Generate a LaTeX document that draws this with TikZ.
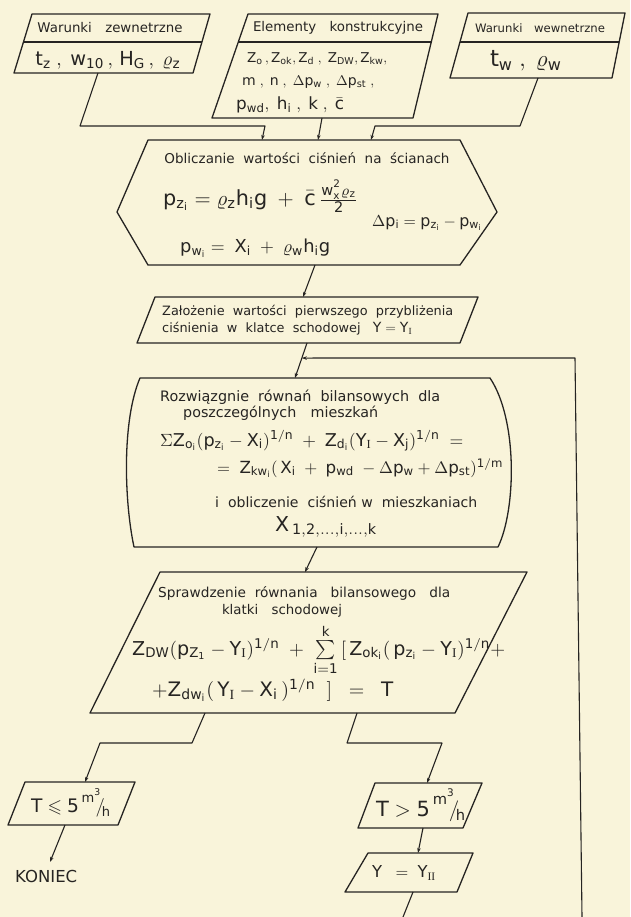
\documentclass[tikz,border=0pt]{standalone}
\usepackage{fix-cm}
\usepackage{amsmath,amssymb}
\usepackage{graphicx}
\usepackage{fontspec}
\setmainfont{DejaVu Sans}
\setsansfont{DejaVu Sans}
\newfontfamily\serifr{Liberation Serif}
\usetikzlibrary{arrows.meta,calc}
\definecolor{paper}{RGB}{249,244,218}
\definecolor{ink}{RGB}{38,36,34}
\newcommand{\RI}{\text{\serifr I}}
\newcommand{\RII}{\text{\serifr II}}
\newcommand{\fw}[2]{\resizebox{#1pt}{!}{#2}}
\newcommand{\msf}[1]{\mathsf{#1}}
\begin{document}
\begin{tikzpicture}[x=1pt,y=-1pt,
  shp/.style={draw=ink,line width=1.3pt,line join=round},
  conn/.style={draw=ink,line width=1.1pt,line join=round},
  arr/.style={conn,-{Stealth[length=5pt,width=3.5pt]}},
  lab/.style={text=ink,inner sep=0pt,font=\fontsize{11}{13}\selectfont},
  lw/.style={lab,anchor=west}]
\useasboundingbox (0,0) rectangle (630,917);
\fill[paper] (0,0) rectangle (630,917);

% ---- top input boxes
\draw[shp] (32,14) -- (210,14) -- (193,73) -- (14,73) -- cycle;
\draw[shp] (23.5,42) -- (201.5,42);
\node[lab] (tA) at (110,28) {\fw{145}{Warunki\quad zewnetrzne}};
\node[lab] (vA) at (108,60) {\fw{145}{$\msf{t_z}\;,\;\msf{w_{10}}\,,\,\msf{H_G}\,,\;\varrho_{\msf{z}}$}};

\draw[shp] (248,14) -- (438,14) -- (413,118) -- (212,118) -- cycle;
\draw[shp] (238.3,42) -- (431.3,42);
\node[lab] (tB) at (338,28) {\fw{170}{Elementy\quad konstrukcyjne}};
\node[lw] (vB1) at (247,59) {\fw{140}{$\msf{Z_o}\,,\msf{Z_{ok}},\msf{Z_d}\;,\;\msf{Z_{DW}},\msf{Z_{kw}},$}};
\node[lw] (vB2) at (242,82) {\fw{132}{$\msf{m}\;,\;\msf{n}\;,\;\Delta\msf{p_w}\;,\;\Delta\msf{p_{st}}\;,$}};
\node[lw] (vB3) at (236,105) {\fw{108}{$\msf{p_{wd}},\;\msf{h_i}\;,\;\msf{k}\;,\;\bar{\msf{c}}$}};

\draw[shp] (468,13) -- (625,13) -- (612,78) -- (450,78) -- cycle;
\draw[shp] (460,42) -- (619,42);
\node[lab] (tC) at (540,28) {\fw{130}{Warunki\quad wewnetrzne}};
\node[lab] (vC) at (526,61) {\fw{72}{$\msf{t_w}\;,\;\varrho_{\msf{w}}$}};

% ---- hexagon
\draw[shp] (148,140) -- (460,140) -- (497,212) -- (460,265) -- (148,265) -- (117,212) -- cycle;
\node[lab] (hT) at (307,158) {\fw{285}{Obliczanie\ \ wartości\ \ ciśnień\ \ na\ \ ścianach}};
\node[lw] (hF1) at (163,196) {\fw{195}{$\msf{p_{z_i}}=\varrho_{\msf{z}}\msf{h_i g}\;+\;\bar{\msf{c}}\,\frac{\msf{w_x^2}\varrho_{\msf{z}}}{\msf{2}}$}};
\node[lw] (hF2) at (372,223) {\fw{110}{$\Delta\msf{p_i}=\msf{p_{z_i}}-\msf{p_{w_i}}$}};
\node[lw] (hF3) at (180,248) {\fw{150}{$\msf{p_{w_i}}=\;\msf{X_i}\;+\;\varrho_{\msf{w}}\msf{h_i g}$}};

% ---- assumption box
\draw[shp] (155,297) -- (478,297) -- (460,343) -- (137,343) -- cycle;
\node[lw] (aL1) at (162,312) {\fw{291}{Założenie\ \ wartości\ \ pierwszego\ \ przybliżenia}};
\node[lw] (aL2) at (162,329) {\fw{250}{ciśnienia\ \ w\ \ klatce\ \ schodowej\ \ \ {\large$\msf{Y} = \msf{Y}_{\RI}$}}};

% ---- balance box (curved sides)
\draw[shp] (140,378) -- (490,378) .. controls (518,420) and (516,510) .. (498,547)
  -- (134,547) .. controls (124,500) and (122,420) .. cycle;
\node[lw] (bT1) at (160,397) {\fw{280}{Rozwiązgnie\ \ równań\ \ bilansowych\ \ dla}};
\node[lw] (bT2) at (183,413) {\fw{195}{poszczególnych\quad mieszkań}};
\node[lw] (bF1) at (160,441) {\fw{303}{$\Sigma\msf{Z_{o_i}}(\msf{p_{z_i}}-\msf{X_i})^{\msf{1/n}}\;+\;\msf{Z_{d_i}}(\msf{Y}_{\RI}-\msf{X_j})^{\msf{1/n}}\;=$}};
\node[lw] (bF2) at (217,468) {\fw{286}{$=\;\msf{Z_{kw_i}}(\,\msf{X_i}\;+\;\msf{p_{wd}}\;-\Delta\msf{p_w}+\Delta\msf{p_{st}})^{\msf{1/m}}$}};
\node[lw] (bT3) at (215,502) {\fw{262}{i\ \ obliczenie\ \ ciśnień\ w\ \ mieszkaniach}};
\node[lw] (bX) at (275,527) {\fw{102}{$\msf{X}_{\,\msf{1,2,\ldots,i,\ldots,k}}$}};

% ---- check box
\draw[shp] (160,572) -- (527,572) -- (455,713) -- (90,713) -- cycle;
\node[lw] (cT1) at (158,593) {\fw{292}{Sprawdzenie\ \ równania\ \ \ bilansowego\ \ \ dla}};
\node[lab] (cT2) at (282,611) {\fw{120}{klatki\quad schodowej}};
\node[lw] (cF1) at (132,650) {\fw{373}{$\msf{Z_{DW}}(\msf{p_{Z_1}}-\msf{Y}_{\RI})^{\msf{1/n}}\;+\;\textstyle\sum\limits_{\msf{i=1}}^{\msf{k}}\,[\,\msf{Z_{ok_i}}(\,\msf{p_{z_i}}-\msf{Y}_{\RI})^{\msf{1/n}}+$}};
\node[lw] (cF2) at (152,690) {\fw{241}{$+\msf{Z_{dw_i}}(\,\msf{Y}_{\RI}-\msf{X_i}\,)^{\msf{1/n}}\;\;]\;\;=\;\;\msf{T}$}};

% ---- bottom boxes
\draw[shp] (25,782) -- (135,782) -- (118,825) -- (8,825) -- cycle;
\node[lab] (tLe) at (71,803) {\fw{80}{$\msf{T}\leqslant\msf{5}^{\,\msf{m^3}}\!\!/\!_{\msf{h}}$}};
\node[lw] (kon) at (15,876) {\fw{62}{KONIEC}};

\draw[shp] (375,783) -- (482,783) -- (463,828) -- (358,828) -- cycle;
\node[lab] (tGt) at (421,805) {\fw{90}{$\msf{T}>\msf{5}^{\,\msf{m^3}}\!\!/\!_{\msf{h}}$}};

\draw[shp] (368,853) -- (473,853) -- (457,892) -- (345,892) -- cycle;
\node[lab] (yII) at (404,873) {\fw{64}{$\msf{Y}\;\;=\;\msf{Y}_{\RII}$}};

% ---- connector coordinates
\coordinate (Ab) at (98,73);   \coordinate (Ak) at (80,126);
\coordinate (Am) at (265,126); \coordinate (H1) at (262,140);
\coordinate (Bb) at (322,118); \coordinate (H2) at (318,140);
\coordinate (Cb) at (538,78);  \coordinate (Ck) at (520,126);
\coordinate (Cm) at (375,126); \coordinate (H3) at (371,140);
\coordinate (Hb) at (315,265); \coordinate (Pt) at (303,297);
\coordinate (Pb) at (307,343); \coordinate (Rt) at (295,378);
\coordinate (Rj) at ($(Pb)!0.43!(Rt)$);
\coordinate (Rb) at (317,547); \coordinate (St) at (305,572);
\coordinate (Sb1) at (205,713); \coordinate (L1) at (192,743);
\coordinate (L2) at (100,743);  \coordinate (Tt) at (85,782);
\coordinate (Tb) at (65,825);   \coordinate (Kt) at (50,862);
\coordinate (Sb2) at (357,713); \coordinate (M1) at (347,743);
\coordinate (M2) at (442,743);  \coordinate (Ut) at (427,783);
\coordinate (Ub) at (423,828);  \coordinate (Yt) at (418,853);
\coordinate (Yb) at (413,892);  \coordinate (E1) at (403,917);
\coordinate (E2) at (582,917);  \coordinate (Rr) at (575,358);

% ---- connectors
\draw[arr] (Ab) -- (Ak) -- (Am) -- (H1);
\draw[arr] (Bb) -- (H2);
\draw[arr] (Cb) -- (Ck) -- (Cm) -- (H3);
\draw[arr] (Hb) -- (Pt);
\draw[arr] (Pb) -- (Rt);
\draw[arr] (E2) -- (Rr) -- (Rj);
\draw[arr] (Rb) -- (St);
\draw[arr] (Sb1) -- (L1) -- (L2) -- (Tt);
\draw[arr] (Tb) -- (Kt);
\draw[arr] (Sb2) -- (M1) -- (M2) -- (Ut);
\draw[arr] (Ub) -- (Yt);
\draw[conn] (Yb) -- (E1);
\end{tikzpicture}
\end{document}
